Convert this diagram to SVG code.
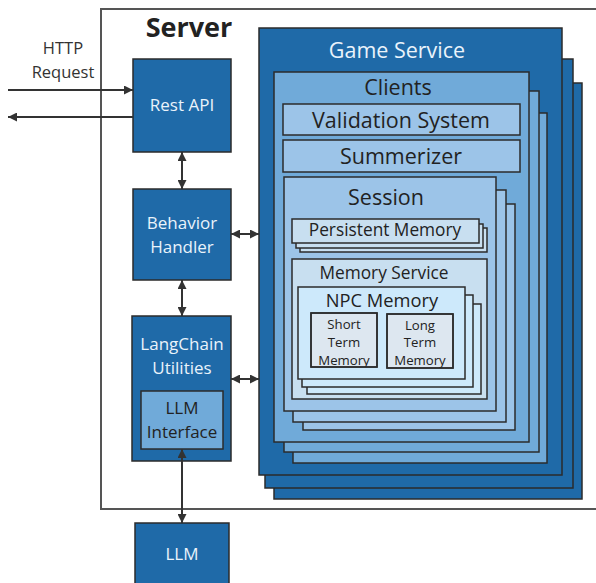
<svg xmlns="http://www.w3.org/2000/svg" width="596" height="583" viewBox="0 0 596 583">
<style>
text{font-family:"Open Sans","Noto Sans","Liberation Sans",sans-serif;text-anchor:middle}
.b{stroke:#2b2b2b;stroke-width:1.5}
.dk{fill:#1f6aa8}
.md{fill:#70aad9}
.lt{fill:#9cc4e8}
.pl{fill:#c8dff0}
.np{fill:#cde9fb}
.st{fill:#dde7f0}
.w{fill:#eaf3fb}
.d{fill:#222}
.c{stroke:#333;stroke-width:2;fill:none;marker-end:url(#ah)}
.c2{stroke:#333;stroke-width:2;fill:none;marker-end:url(#ah);marker-start:url(#ah)}
</style>
<defs>
<marker id="ah" viewBox="0 0 10 10" refX="10" refY="5" markerWidth="9" markerHeight="9" markerUnits="userSpaceOnUse" orient="auto-start-reverse">
<path d="M0,0 L10,5 L0,10 z" fill="#333"/>
</marker>
<clipPath id="cs"><rect x="311" y="313" width="66" height="54"/></clipPath>
<clipPath id="cl"><rect x="387" y="314" width="66" height="54"/></clipPath>
</defs>
<rect width="596" height="583" fill="#fff"/>

<g id="server">
<rect x="101" y="9" width="520" height="500" fill="#fff" stroke="#555" stroke-width="2"/>
<text x="189" y="37" style="font-size:27px;font-weight:bold" fill="#222">Server</text>
</g>

<g id="http">
<text x="63" y="54" style="font-size:16.5px" fill="#333">HTTP</text>
<text x="63" y="78" style="font-size:16.5px" fill="#333">Request</text>
</g>

<g id="rest-api">
<rect class="b dk" x="133" y="59" width="98" height="93"/>
<text class="w" x="182" y="111" style="font-size:17px">Rest API</text>
</g>

<g id="behavior-handler">
<rect class="b dk" x="133" y="189" width="98" height="91"/>
<text class="w" x="182" y="229" style="font-size:17px">Behavior</text>
<text class="w" x="182" y="253" style="font-size:17px">Handler</text>
</g>

<g id="langchain">
<rect class="b dk" x="132" y="316" width="99" height="145"/>
<text class="w" x="182" y="350" style="font-size:17px">LangChain</text>
<text class="w" x="182" y="374" style="font-size:17px">Utilities</text>
</g>

<g id="llm-interface">
<rect class="b md" x="141" y="391" width="82" height="58"/>
<text class="d" x="182" y="414" style="font-size:17px">LLM</text>
<text class="d" x="182" y="438" style="font-size:17px">Interface</text>
</g>

<g id="llm">
<rect class="b dk" x="135" y="523" width="94" height="70"/>
<text class="w" x="182" y="560" style="font-size:17px">LLM</text>
</g>

<g id="game-service">
<rect class="b dk" x="274" y="83" width="308" height="416"/>
<rect class="b dk" x="265" y="59" width="308" height="429"/>
<rect class="b dk" x="259" y="28" width="303" height="447"/>
<text class="w" x="397" y="58" style="font-size:21.5px">Game Service</text>
</g>

<g id="clients">
<rect class="b md" x="293" y="113" width="254" height="350"/>
<rect class="b md" x="284" y="91" width="255" height="361"/>
<rect class="b md" x="274" y="72" width="255" height="370"/>
<text class="d" x="398" y="95" style="font-size:21.5px">Clients</text>
</g>

<g id="validation-system">
<rect class="b lt" x="283" y="104" width="237" height="31"/>
<text class="d" x="401" y="128" style="font-size:21.5px">Validation System</text>
</g>

<g id="summerizer">
<rect class="b lt" x="283" y="140" width="237" height="32"/>
<text class="d" x="401" y="164" style="font-size:21.5px">Summerizer</text>
</g>

<g id="session">
<rect class="b lt" x="303" y="204" width="212" height="226"/>
<rect class="b lt" x="293" y="190" width="213" height="232"/>
<rect class="b lt" x="284" y="177" width="212" height="234"/>
<text class="d" x="386" y="205" style="font-size:21.5px">Session</text>
</g>

<g id="persistent-memory">
<rect class="b pl" x="300" y="228" width="187" height="24"/>
<rect class="b pl" x="296" y="224" width="187" height="24"/>
<rect class="b pl" x="292" y="219" width="187" height="24"/>
<text class="d" x="385" y="236" style="font-size:17.3px">Persistent Memory</text>
</g>

<g id="memory-service">
<rect class="b pl" x="292" y="259" width="195" height="140"/>
<text class="d" x="384" y="279" style="font-size:17.3px">Memory Service</text>
</g>

<g id="npc-memory">
<rect class="b np" x="307" y="304" width="174" height="90"/>
<rect class="b np" x="302" y="295" width="171" height="92"/>
<rect class="b np" x="298" y="287" width="167" height="92"/>
<text class="d" x="382" y="307" style="font-size:18.3px">NPC Memory</text>
</g>

<g id="short-term-memory">
<rect class="b st" x="311" y="313" width="66" height="54"/>
<g clip-path="url(#cs)">
<text class="d" x="344" y="329" style="font-size:13.2px">Short</text>
<text class="d" x="344" y="347" style="font-size:13.2px">Term</text>
<text class="d" x="344" y="365" style="font-size:13.2px">Memory</text>
</g>
<rect x="311" y="313" width="66" height="54" fill="none" class="b"/>
</g>

<g id="long-term-memory">
<rect class="b st" x="387" y="314" width="66" height="54"/>
<g clip-path="url(#cl)">
<text class="d" x="420" y="330" style="font-size:13.2px">Long</text>
<text class="d" x="420" y="347" style="font-size:13.2px">Term</text>
<text class="d" x="420" y="365" style="font-size:13.2px">Memory</text>
</g>
<rect x="387" y="314" width="66" height="54" fill="none" class="b"/>
</g>

<g id="connectors">
<line class="c" x1="8" y1="90" x2="133" y2="90"/>
<line class="c" x1="133" y1="117" x2="8" y2="117"/>
<line class="c2" x1="182" y1="152" x2="182" y2="189"/>
<line class="c2" x1="182" y1="280" x2="182" y2="316"/>
<line class="c2" x1="231" y1="234" x2="259" y2="234"/>
<line class="c2" x1="231" y1="379" x2="259" y2="379"/>
<line class="c2" x1="182" y1="449" x2="182" y2="523"/>
</g>
</svg>
